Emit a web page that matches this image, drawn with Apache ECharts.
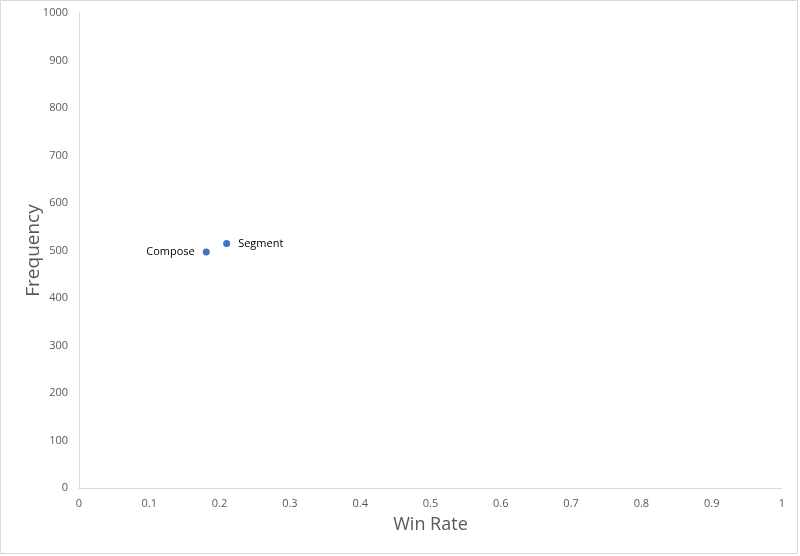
<!DOCTYPE html>
<html>
<head>
<meta charset="utf-8">
<script src="https://cdn.jsdelivr.net/npm/echarts@6/dist/echarts.min.js"></script>
<style>
  html, body { margin: 0; padding: 0; background: #fff; }
  #chart { width: 800px; height: 556px; }
</style>
</head>
<body>
<div id="chart"></div>
<script>
// points
var names = ['Compose', 'Segment'];
var winRate = [0.181, 0.210];
var frequency = [497, 515];
var labelSide = ['left', 'right'];

var points = names.map(function (n, i) {
  return {
    name: n,
    value: [winRate[i], frequency[i]],
    label: { position: labelSide[i] }
  };
});

var chart = echarts.init(document.getElementById('chart'));
var axisGray = '#d9d9d9';
var textGray = '#595959';

chart.setOption({
  animation: false,
  textStyle: { fontFamily: 'Open Sans, Liberation Sans, sans-serif' },
  grid: { left: 79, right: 18, top: 13, bottom: 68 },
  graphic: [{
    type: 'rect',
    shape: { x: 0.5, y: 0.5, width: 797, height: 553 },
    style: { fill: 'none', stroke: axisGray, lineWidth: 1 },
    silent: true
  }],
  xAxis: {
    type: 'value',
    min: 0, max: 1, interval: 0.1,
    name: 'Win Rate',
    nameLocation: 'middle',
    nameGap: 28,
    nameMoveOverlap: false,
    nameTextStyle: { color: textGray, fontSize: 18 },
    axisLine: { show: true, lineStyle: { color: axisGray } },
    axisTick: { show: false },
    splitLine: { show: false },
    axisLabel: { color: textGray, fontSize: 11, margin: 10 }
  },
  yAxis: {
    type: 'value',
    min: 0, max: 1000, interval: 100,
    name: 'Frequency',
    nameLocation: 'middle',
    nameGap: 36,
    nameMoveOverlap: false,
    nameTextStyle: { color: textGray, fontSize: 19 },
    axisLine: { show: true, lineStyle: { color: axisGray } },
    axisTick: { show: false },
    splitLine: { show: false },
    axisLabel: {
      color: textGray, fontSize: 11, margin: 11,
      formatter: function (v) { return String(v); }
    }
  },
  series: [{
    type: 'scatter',
    symbolSize: 7,
    itemStyle: { color: '#4472C4', opacity: 1 },
    label: {
      show: true,
      formatter: '{b}',
      color: '#000',
      fontSize: 11,
      distance: 8
    },
    data: points
  }]
});
</script>
</body>
</html>
